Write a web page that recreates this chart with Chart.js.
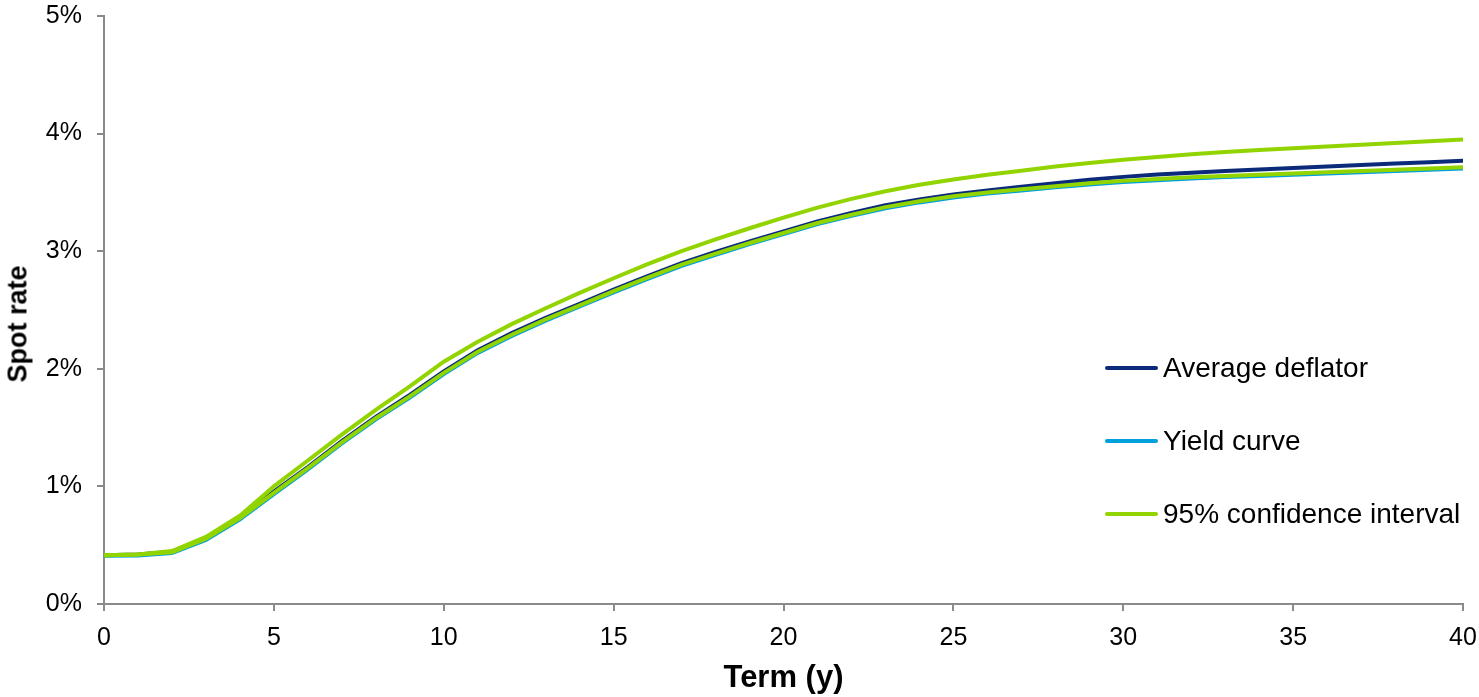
<html><head>
<title>Spot rate vs term</title>
<style>
  body {
    margin: 0;
    background: #fff;
    font-family: "Liberation Sans", Arial, sans-serif;
  }
  .wrap {
    position: relative;
    width: 1479px;
    height: 697px;
  }
  #legend {
    position: absolute;
    left: 1105px;
    top: 348px;
  }
  .item {
    display: flex;
    align-items: center;
    height: 40px;
    margin-bottom: 33px;
    font-size: 28px;
    color: #000;
  }
  .swatch {
    width: 53px;
    height: 4px;
    border-radius: 2px;
    margin-right: 5px;
  }
  #ytitle {
    position: absolute;
    left: 18px;
    top: 324px;
    transform: translate(-50%, -50%) rotate(-90deg);
    white-space: nowrap;
    font-weight: bold;
    font-size: 27px;
    color: #000;
  }
</style>
<script src="https://cdn.jsdelivr.net/npm/chart.js"></script>
</head>
<body>
<div class="wrap">
  <canvas id="chart" width="1479" height="697"></canvas>
  <div id="ytitle">Spot rate</div>
  <div id="legend"></div>
</div>
<script>
// term in years
const terms = [0,1,2,3,4,5,6,7,8,9,10,11,12,13,14,15,16,17,18,19,20,
  21,22,23,24,25,26,27,28,29,30,31,32,33,34,35,36,37,38,39,40];

// spot rates in %
const averageDeflator = [0.415,0.42,0.445,0.56,0.74,0.955,1.165,1.385,1.59,1.778,1.978,
  2.158,2.303,2.433,2.553,2.673,2.788,2.898,2.993,3.083,3.168,
  3.253,3.325,3.39,3.44,3.482,3.516,3.548,3.578,3.607,3.632,
  3.652,3.667,3.682,3.695,3.708,3.72,3.732,3.745,3.757,3.77];

const yieldCurve = [0.41,0.413,0.433,0.545,0.72,0.935,1.145,1.365,1.57,1.755,1.955,
  2.135,2.28,2.41,2.53,2.65,2.765,2.875,2.97,3.06,3.145,
  3.23,3.3,3.365,3.415,3.457,3.49,3.517,3.543,3.567,3.588,
  3.604,3.618,3.63,3.64,3.65,3.661,3.672,3.682,3.693,3.703];

const upperCI = [0.415,0.42,0.45,0.57,0.75,1.0,1.22,1.44,1.65,1.85,2.06,
  2.23,2.38,2.515,2.645,2.77,2.89,3.0,3.1,3.195,3.285,
  3.37,3.445,3.51,3.565,3.61,3.65,3.685,3.72,3.75,3.778,
  3.802,3.824,3.843,3.86,3.876,3.89,3.905,3.92,3.935,3.95];

const lowerCI = [0.415,0.42,0.44,0.555,0.73,0.945,1.155,1.375,1.58,1.765,1.965,
  2.145,2.29,2.42,2.54,2.66,2.775,2.885,2.98,3.07,3.155,
  3.24,3.31,3.375,3.425,3.467,3.5,3.527,3.553,3.577,3.598,
  3.614,3.628,3.64,3.65,3.66,3.671,3.682,3.692,3.703,3.713];

const navy = '#0b2a7a';
const blue = '#00a0dc';
const green = '#92d400';
const axisGrey = '#8a8a8a';
const fontFamily = '"Liberation Sans", Arial';

const pts = arr => terms.map((t, i) => ({x: t, y: arr[i]}));

function line(label, data, color, order) {
  return {
    label: label,
    data: pts(data),
    borderColor: color,
    backgroundColor: color,
    borderWidth: 4,
    pointRadius: 0,
    tension: 0,
    borderCapStyle: 'round',
    order: order
  };
}

const chart = new Chart(document.getElementById('chart'), {
  type: 'line',
  data: {
    datasets: [
      line('Average deflator', averageDeflator, navy, 3),
      line('Yield curve', yieldCurve, blue, 2),
      line('95% confidence interval', upperCI, green, 1),
      line('95% confidence interval', lowerCI, green, 0)
    ]
  },
  options: {
    responsive: false,
    animation: false,
    layout: { padding: { top: 16, right: 16, left: 0, bottom: 0 } },
    plugins: {
      legend: { display: false },
      tooltip: { enabled: false }
    },
    scales: {
      x: {
        type: 'linear',
        min: 0,
        max: 40,
        // fixed axis band; let end labels overhang instead of shrinking the plot
        afterFit: s => { s.height = 93; s.paddingLeft = 0; s.paddingRight = 0; },
        ticks: {
          stepSize: 5,
          padding: 12,
          color: '#000',
          font: { family: fontFamily, size: 25 }
        },
        grid: { drawOnChartArea: false, drawTicks: true, tickLength: 7, color: axisGrey, lineWidth: 2 },
        border: { color: axisGrey, width: 2 },
        title: {
          display: true,
          text: 'Term (y)',
          color: '#000',
          padding: { top: 0, bottom: 0 },
          font: { family: fontFamily, size: 31, weight: 'bold' }
        }
      },
      y: {
        min: 0,
        max: 5,
        afterFit: s => { s.width = 104; s.paddingTop = 0; s.paddingBottom = 0; },
        ticks: {
          stepSize: 1,
          padding: 15,
          color: '#000',
          font: { family: fontFamily, size: 25 },
          callback: v => v + '%'
        },
        grid: { drawOnChartArea: false, drawTicks: true, tickLength: 7, color: axisGrey, lineWidth: 2 },
        border: { color: axisGrey, width: 2 },
        title: { display: false }
      }
    }
  }
});

// legend inside the plot, one entry per series name
const legend = document.getElementById('legend');
const seen = new Set();
chart.data.datasets.forEach(ds => {
  if (seen.has(ds.label)) return;
  seen.add(ds.label);
  const item = document.createElement('div');
  item.className = 'item';
  const sw = document.createElement('span');
  sw.className = 'swatch';
  sw.style.background = ds.borderColor;
  const txt = document.createElement('span');
  txt.textContent = ds.label;
  item.appendChild(sw);
  item.appendChild(txt);
  legend.appendChild(item);
});
</script>
</body></html>
